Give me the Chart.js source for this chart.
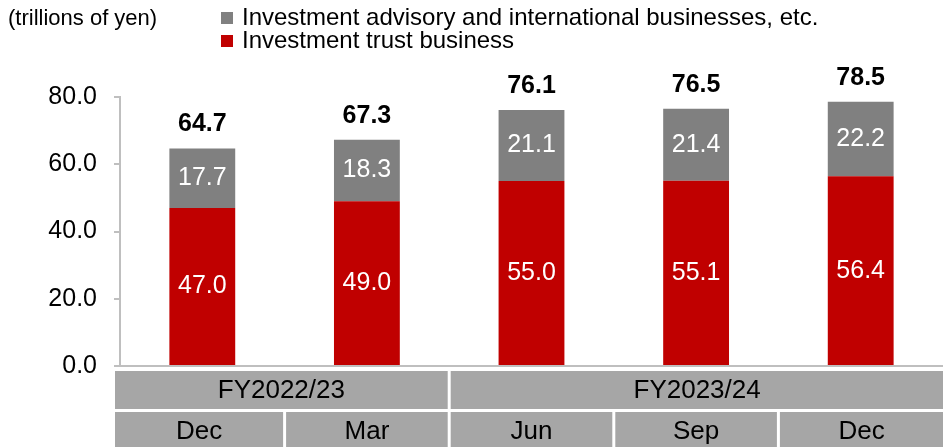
<!DOCTYPE html>
<html lang="en">
<head>
<meta charset="UTF-8">
<title>Assets under management</title>
<script src="https://cdn.jsdelivr.net/npm/chart.js"></script>
<style>
	body { margin: 0; background: #fff; }
</style>
</head>
<body>
<canvas id="graficoAtivos" width="943" height="447"></canvas>
<script>
	var months = ['Dec', 'Mar', 'Jun', 'Sep', 'Dec'];
	var fiscalYears = ['FY2022/23', 'FY2023/24'];
	var fiscalYearSpan = [2, 3];
	var investmentTrust = [47.0, 49.0, 55.0, 55.1, 56.4];
	var advisory = [17.7, 18.3, 21.1, 21.4, 22.2];
	var totals = [64.7, 67.3, 76.1, 76.5, 78.5];
	var yTicks = [0, 20, 40, 60, 80];

	var fonte = '"Liberation Sans", Arial, sans-serif';
	var corVermelha = '#C00000';
	var corCinza = '#808080';
	var corTabela = '#A6A6A6';
	var corEixo = '#BFBFBF';

	var rotulos = {
		id: 'rotulos',
		afterDatasetsDraw: function (chart) {
			var c = chart.ctx;
			c.save();
			c.textAlign = 'center';
			c.textBaseline = 'middle';
			c.font = '25px ' + fonte;
			c.fillStyle = '#fff';
			chart.data.datasets.forEach(function (ds, d) {
				chart.getDatasetMeta(d).data.forEach(function (bar, i) {
					c.fillText(ds.data[i].toFixed(1), bar.x, (bar.y + bar.base) / 2);
				});
			});

			// totais acima das barras
			c.font = 'bold 25px ' + fonte;
			c.fillStyle = '#000';
			c.textBaseline = 'alphabetic';
			chart.getDatasetMeta(1).data.forEach(function (bar, i) {
				c.fillText(totals[i].toFixed(1), bar.x, bar.y - 17);
			});
			c.restore();
		},
		afterDraw: function (chart) {
			var c = chart.ctx;
			var x = chart.scales.x;
			var larg = x.width / months.length;
			c.save();

			// unidade e legenda
			c.textAlign = 'left';
			c.textBaseline = 'middle';
			c.fillStyle = '#000';
			c.font = '22px ' + fonte;
			c.fillText('(trillions of yen)', 8, 19);

			var itens = [chart.data.datasets[1], chart.data.datasets[0]];
			c.font = '24px ' + fonte;
			itens.forEach(function (ds, i) {
				var y = 18 + i * 23;
				c.fillStyle = ds.backgroundColor;
				c.fillRect(221, y - 6, 12, 12);
				c.fillStyle = '#000';
				c.fillText(ds.label, 242, y);
			});

			// tabela de categorias
			function borda(i) {
				if (i === 0) return x.left - 5;
				if (i >= months.length) return chart.width + 2;
				return x.left + i * larg;
			}
			function celula(ini, fim, y0, y1, texto) {
				var a = borda(ini) + (ini > 0 ? 1.5 : 0);
				var b = borda(fim) - 1.5;
				c.fillStyle = corTabela;
				c.fillRect(a, y0, b - a, y1 - y0);
				c.fillStyle = '#000';
				c.fillText(texto, (a + b) / 2, (y0 + y1) / 2 + 1);
			}
			c.textAlign = 'center';
			c.font = '26px ' + fonte;
			var ini = 0;
			fiscalYears.forEach(function (fy, k) {
				celula(ini, ini + fiscalYearSpan[k], 371, 409, fy);
				ini += fiscalYearSpan[k];
			});
			months.forEach(function (m, i) {
				celula(i, i + 1, 412, 449, m);
			});
			c.restore();
		}
	};

	var ctx = document.getElementById('graficoAtivos').getContext('2d');
	var graficoAtivos = new Chart(ctx, {
		type: 'bar',
		data: {
			labels: months,
			datasets: [{
				label: 'Investment trust business',
				data: investmentTrust,
				backgroundColor: corVermelha,
				barPercentage: 0.4,
				categoryPercentage: 1
			}, {
				label: 'Investment advisory and international businesses, etc.',
				data: advisory,
				backgroundColor: corCinza,
				barPercentage: 0.4,
				categoryPercentage: 1
			}]
		},
		options: {
			responsive: false,
			animation: false,
			layout: { padding: { top: 97, bottom: 81, left: 0, right: 0 } },
			plugins: {
				legend: { display: false },
				tooltip: { enabled: false }
			},
			scales: {
				x: {
					stacked: true,
					ticks: { display: false },
					grid: { display: true, drawOnChartArea: false, drawTicks: false },
					border: { color: corEixo, width: 2 },
					afterFit: function (s) { s.height = 0; }
				},
				y: {
					stacked: true,
					min: 0,
					max: 80,
					afterBuildTicks: function (axis) {
						axis.ticks = yTicks.map(function (v) { return { value: v }; });
					},
					ticks: {
						color: '#000',
						padding: 17,
						font: { size: 25, family: fonte },
						callback: function (v) { return Number(v).toFixed(1); }
					},
					grid: { drawOnChartArea: false, tickLength: 6, color: corEixo, lineWidth: 2 },
					border: { color: corEixo, width: 2 },
					afterFit: function (s) { s.width = 120; }
				}
			}
		},
		plugins: [rotulos]
	});
</script>
</body>
</html>
